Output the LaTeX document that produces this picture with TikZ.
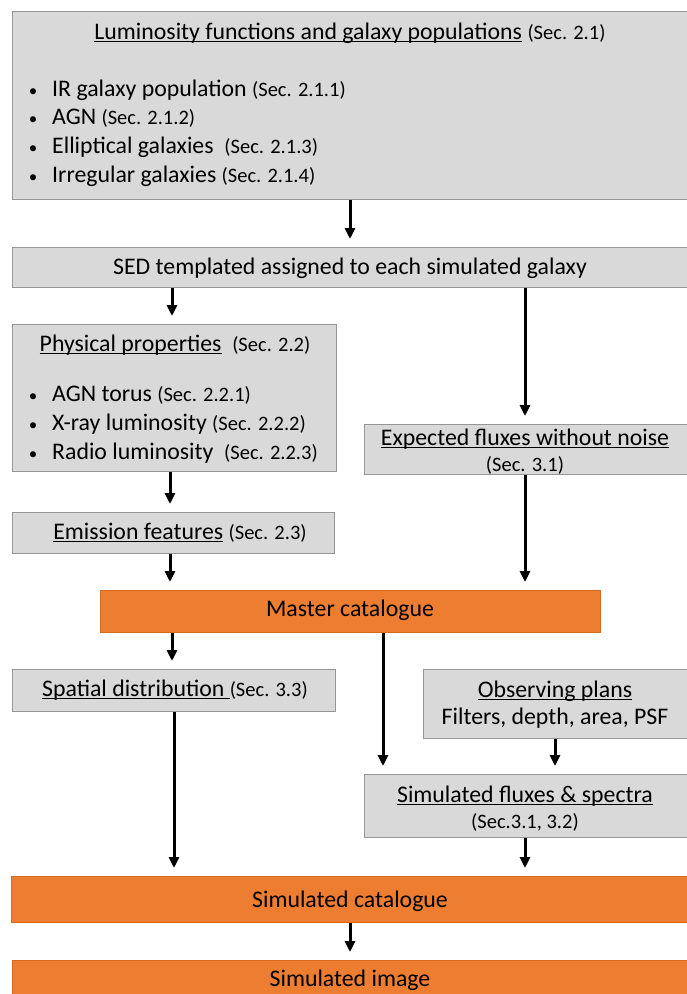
\documentclass[tikz,border=0pt]{standalone}
\usepackage{fontspec}
\setmainfont{Carlito}
\usetikzlibrary{arrows.meta}
\definecolor{boxgray}{HTML}{D9D9D9}
\definecolor{boxline}{HTML}{969696}
\definecolor{orfill}{HTML}{ED7D31}
\definecolor{orline}{HTML}{D86A20}
\newcommand\undl[1]{\setbox0\hbox{#1}\rlap{\rule[-3pt]{\wd0}{1.4pt}}\box0\relax}
\newcommand\sm[1]{{\fontsize{20.5}{24}\selectfont #1}}
\tikzset{
  graybox/.style={draw=boxline, line width=1.3pt, fill=boxgray, anchor=north west, inner sep=0pt, rectangle},
  orbox/.style={draw=orline, line width=1.3pt, fill=orfill, anchor=north west, inner sep=0pt, rectangle},
  txt/.style={anchor=base, inner sep=0pt, font=\fontsize{23.8}{28}\selectfont},
  ltxt/.style={anchor=base west, inner sep=0pt, font=\fontsize{23.8}{28}\selectfont},
  bul/.style={anchor=base, inner sep=0pt, font=\fontsize{17}{20}\selectfont},
  arr/.style={line width=3pt, -{Triangle[width=10pt,length=11pt]}, shorten >=8pt}
}
\begin{document}
\begin{tikzpicture}[x=1pt,y=-1pt]
\useasboundingbox (0,0) rectangle (687,994);
\clip (0,0) rectangle (687,994);
% boxes
\node[graybox, minimum width=680pt, minimum height=188pt] (top) at (12,11) {};
\node[graybox, minimum width=680pt, minimum height=40pt] (sed) at (12,247) {};
\node[graybox, minimum width=324pt, minimum height=147pt] (phys) at (12,324) {};
\node[graybox, minimum width=330pt, minimum height=50pt] (exp) at (364,424) {};
\node[graybox, minimum width=322pt, minimum height=41pt] (emis) at (12,512) {};
\node[orbox, minimum width=500pt, minimum height=42pt] (master) at (100,590) {};
\node[graybox, minimum width=323pt, minimum height=42pt] (spat) at (12,669) {};
\node[graybox, minimum width=270pt, minimum height=69pt] (obs) at (423,669) {};
\node[graybox, minimum width=330pt, minimum height=63pt] (simf) at (364,774) {};
\node[orbox, minimum width=681pt, minimum height=46pt] (simcat) at (11,876) {};
\node[orbox, minimum width=680pt, minimum height=50pt] (simimg) at (12,960) {};
% texts
\node[txt] (t1) at (350,39) {\undl{Luminosity functions and galaxy populations} \sm{(Sec. 2.1)}};
\node[bul] (b1) at (33,96) {•};
\node[ltxt] (l1) at (52,96) {IR galaxy population \sm{(Sec. 2.1.1)}};
\node[bul] (b2) at (33,124) {•};
\node[ltxt] (l2) at (52,124) {AGN \sm{(Sec. 2.1.2)}};
\node[bul] (b3) at (33,153) {•};
\node[ltxt] (l3) at (52,153) {Elliptical galaxies \ \sm{(Sec. 2.1.3)}};
\node[bul] (b4) at (33,182) {•};
\node[ltxt] (l4) at (52,182) {Irregular galaxies \sm{(Sec. 2.1.4)}};
\node[txt] (t2) at (350,274) {SED templated assigned to each simulated galaxy};
\node[txt] (t3) at (175,351) {\undl{Physical properties} \ \sm{(Sec. 2.2)}};
\node[bul] (b5) at (33,401) {•};
\node[ltxt] (l5) at (52,401) {AGN torus \sm{(Sec. 2.2.1)}};
\node[bul] (b6) at (33,430) {•};
\node[ltxt] (l6) at (52,430) {X-ray luminosity \sm{(Sec. 2.2.2)}};
\node[bul] (b7) at (33,459) {•};
\node[ltxt] (l7) at (52,459) {Radio luminosity \ \sm{(Sec. 2.2.3)}};
\node[txt] (t4) at (525,445) {\undl{Expected fluxes without noise}};
\node[txt] (t4b) at (525,471) {\sm{(Sec. 3.1)}};
\node[txt] (t5) at (180,539) {\undl{Emission features} \sm{(Sec. 2.3)}};
\node[txt] (t6) at (350,616) {Master catalogue};
\node[txt] (t7) at (175,696) {\undl{Spatial distribution\ }\sm{(Sec. 3.3)}};
\node[txt] (t8) at (555,697) {\undl{Observing plans}};
\node[txt] (t8b) at (555,724) {Filters, depth, area, PSF};
\node[txt] (t9) at (525,802) {\undl{Simulated fluxes \& spectra}};
\node[txt] (t9b) at (525,828) {\sm{(Sec.3.1, 3.2)}};
\node[txt] (t10) at (350,907) {Simulated catalogue};
\node[txt] (t11) at (350,986) {Simulated image};
% arrow columns
\coordinate (cA) at (350,0);
\coordinate (cB) at (172,0);
\coordinate (cC) at (525,0);
\coordinate (cD) at (170,0);
\coordinate (cE) at (383,0);
\coordinate (cF) at (555,0);
\coordinate (cG) at (174,0);
% connectors
\draw[arr] (top.south -| cA) -- (sed.north -| cA);
\draw[arr] (sed.south -| cB) -- (phys.north -| cB);
\draw[arr] (sed.south -| cC) -- (exp.north -| cC);
\draw[arr] (phys.south -| cD) -- (emis.north -| cD);
\draw[arr] (emis.south -| cD) -- (master.north -| cD);
\draw[arr] (exp.south -| cC) -- (master.north -| cC);
\draw[arr] (master.south -| cB) -- (spat.north -| cB);
\draw[arr] (master.south -| cE) -- (simf.north -| cE);
\draw[arr] (obs.south -| cF) -- (simf.north -| cF);
\draw[arr] (spat.south -| cG) -- (simcat.north -| cG);
\draw[arr] (simf.south -| cC) -- (simcat.north -| cC);
\draw[arr] (simcat.south -| cA) -- (simimg.north -| cA);
\end{tikzpicture}
\end{document}
